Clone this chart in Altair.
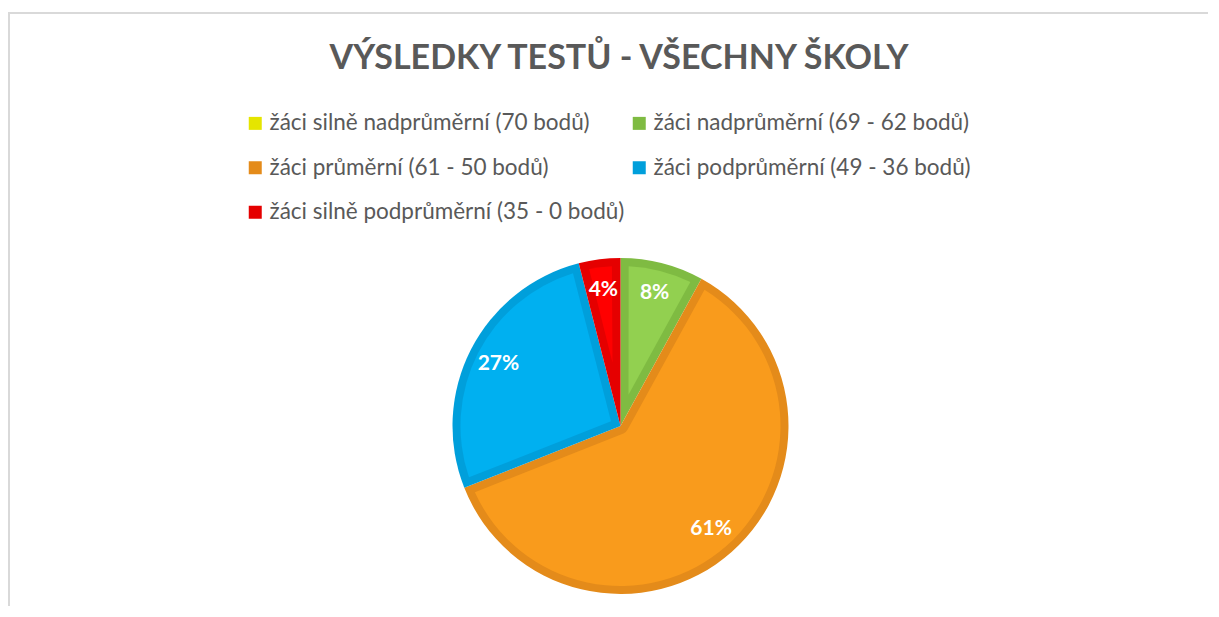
import altair as alt
import pandas as pd

categories = [
    "žáci silně nadprůměrní (70 bodů)",
    "žáci nadprůměrní (69 - 62 bodů)",
    "žáci průměrní (61 - 50 bodů)",
    "žáci podprůměrní (49 - 36 bodů)",
    "žáci silně podprůměrní (35 - 0 bodů)",
]
values = [0, 8, 61, 27, 4]
fill_colors = ["#FFFF00", "#92D050", "#F99B1C", "#00B0F0", "#FF0000"]
dark_colors = ["#E5E500", "#7FBB42", "#E48B1A", "#009FDB", "#E50000"]
title_text = "VÝSLEDKY TESTŮ - VŠECHNY ŠKOLY"

W, H = 1200, 598
CX, CY = 612.5, 418
R_OUT = 168
BORDER = 8

df = pd.DataFrame({
    "category": categories,
    "value": values,
    "order": list(range(len(categories))),
    "label": [f"{v}%" for v in values],
})
one = pd.DataFrame({"a": [0]})

base = alt.Chart(df).encode(
    theta=alt.Theta("value:Q", stack=True),
    order=alt.Order("order:Q"),
    x=alt.value(CX),
    y=alt.value(CY),
)

dark = base.mark_arc(outerRadius=R_OUT).encode(
    color=alt.Color(
        "category:N",
        scale=alt.Scale(domain=categories, range=dark_colors),
        sort=categories,
        legend=alt.Legend(
            orient="none", legendX=236, legendY=104, columns=2, title=None,
            direction="horizontal",
            symbolType="square", symbolSize=169, symbolStrokeWidth=0,
            labelFont="Lato", labelFontSize=22.5, labelColor="#595959",
            rowPadding=21.5, columnPadding=3, labelOffset=3, padding=0,
            labelLimit=600,
        ),
    )
)

# inner (lighter) part of each slice, inset by the border width
light = base.transform_calculate(
    r_out=f"{R_OUT - BORDER}",
    r_in=f"{BORDER} / sin(min(datum.value / 100 * PI, PI / 2))",
).transform_filter("datum.value > 0").mark_arc(padAngle=2 * BORDER / (R_OUT - BORDER)).encode(
    radius=alt.Radius("r_out:Q", scale=None),
    radius2=alt.Radius2("r_in:Q"),
    fill=alt.Fill(
        "category:N",
        scale=alt.Scale(domain=categories, range=fill_colors),
        legend=None,
    ),
)

labels = base.transform_filter("datum.value > 0").mark_text(
    radius=137, font="Lato", fontWeight="bold", fontSize=21, color="white",
    align="center", baseline="middle",
).encode(text="label:N")

top_rule = alt.Chart(one).mark_rule(color="#D9D9D9", strokeWidth=2).encode(
    x=alt.value(0), x2=alt.value(W), y=alt.value(5)
)
left_rule = alt.Chart(one).mark_rule(color="#D9D9D9", strokeWidth=2).encode(
    x=alt.value(1), y=alt.value(5), y2=alt.value(H)
)

title = alt.Chart(one).mark_text(
    text=title_text, font="Lato", fontWeight="bold", fontSize=34,
    color="#595959", align="center", baseline="alphabetic",
).encode(x=alt.value(611), y=alt.value(61))

chart = alt.layer(top_rule, left_rule, dark, light, labels, title).resolve_scale(
    color="independent", fill="independent"
).properties(
    width=W, height=H, autosize=alt.AutoSizeParams(type="none"), padding=0,
    background="white",
).configure_view(stroke=None)

chart.save("out.html", embed_options={"renderer": "svg", "actions": False})
